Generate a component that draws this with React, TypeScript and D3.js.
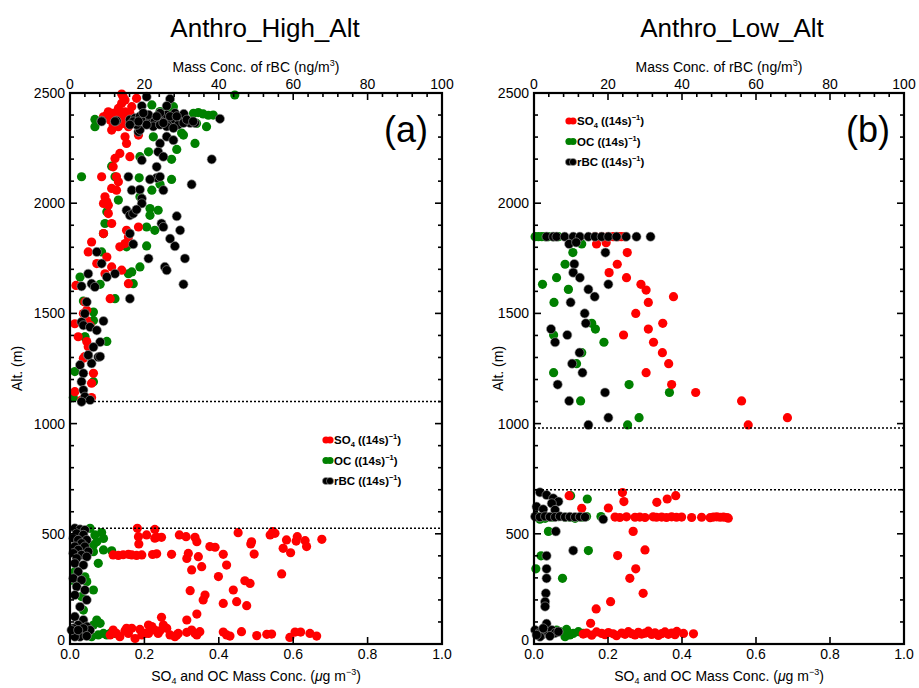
import React from "react";
import * as d3 from "d3";

type P = [number, number];

// ---------- Panel (a) Anthro_High_Alt ----------
// SO4 (µg m^-3, altitude m)
const soA: P[] = [
  [0.143,2483],[0.139,2453],[0.179,2476],[0.166,2438],[0.116,2408],[0.099,2400],[0.090,2392],[0.108,2377],[0.125,2370],[0.139,2385],
  [0.152,2392],[0.143,2362],[0.157,2347],[0.112,2332],[0.184,2309],[0.148,2301],[0.152,2271],[0.134,2226],[0.121,2203],[0.161,2211],
  [0.116,2165],[0.125,2120],[0.085,2120],[0.130,2097],[0.112,2067],[0.125,2059],[0.094,2029],[0.099,2006],[0.090,1999],[0.103,1991],
  [0.103,1953],[0.112,1908],[0.152,1877],[0.184,1892],[0.090,1862],[0.157,1847],[0.058,1824],[0.148,1817],[0.134,1802],[0.049,1779],
  [0.099,1756],[0.072,1726],[0.112,1711],[0.094,1680],[0.139,1696],[0.157,1635],[0.016,1627],[0.108,1567],[0.040,1552],[0.045,1514],
  [0.036,1499],[0.013,1453],[0.045,1468],[0.054,1446],
  [0.130,2430],[0.148,2415],[0.121,2392],[0.134,2408],[0.166,2377],[0.161,2408],[0.175,2370],[0.130,2347],[0.116,2355],[0.103,2415],
  [0.148,2468],[0.139,2495],
  [0.045,1372],[0.049,1349],[0.040,1304],[0.036,1296],[0.063,1228],[0.058,1183],[0.013,1145],[0.031,1107],[0.058,1118],[0.022,1394],
  [0.181,525],[0.228,520],[0.184,487],[0.206,495],[0.228,480],[0.246,484],[0.294,495],[0.312,487],[0.336,484],[0.341,464],
  [0.185,454],[0.233,484],[0.452,505],[0.538,495],[0.545,510],[0.551,502],[0.582,472],[0.611,487],[0.608,467],[0.632,469],
  [0.677,475],[0.488,464],[0.486,454],[0.573,434],[0.593,414],[0.636,442],[0.376,442],[0.390,439],[0.412,407],[0.421,358],
  [0.495,408],[0.318,411],[0.314,388],[0.345,396],[0.354,351],[0.327,336],[0.569,318],[0.399,306],[0.439,245],[0.470,287],
  [0.484,275],[0.448,192],[0.363,222],[0.358,200],[0.412,184],[0.323,242],[0.314,109],[0.341,136],[0.246,121],[0.475,174],
  [0.116,404],[0.130,402],[0.143,405],[0.157,407],[0.166,404],[0.179,402],[0.193,404],[0.222,406],[0.233,409],[0.273,407],
  [0.108,41],[0.125,48],[0.134,33],[0.148,60],[0.157,48],[0.166,71],[0.175,25],[0.193,41],[0.202,48],[0.211,86],
  [0.220,79],[0.228,63],[0.237,48],[0.251,86],[0.260,71],[0.269,41],[0.282,33],[0.291,48],[0.314,53],[0.327,63],
  [0.336,48],[0.341,41],[0.349,56],[0.412,54],[0.421,41],[0.430,36],[0.461,56],[0.502,38],[0.529,44],[0.542,45],
  [0.591,30],[0.605,54],[0.620,54],[0.645,48],[0.663,36],[0.188,66],[0.242,60],[0.287,41],[0.211,48],[0.152,71],[0.116,63],
];
// OC (µg m^-3, altitude m)
const ocA: P[] = [
  [0.443,2491],[0.278,2438],[0.220,2446],[0.067,2380],[0.067,2347],[0.332,2408],[0.345,2411],[0.358,2405],[0.372,2399],[0.385,2400],
  [0.367,2347],[0.340,2362],[0.291,2362],[0.305,2309],[0.224,2301],[0.336,2271],[0.287,2244],[0.211,2233],[0.273,2199],[0.188,2211],
  [0.112,2168],[0.031,2120],[0.121,2120],[0.186,2115],[0.273,2108],[0.242,2086],[0.220,2059],[0.188,2029],[0.215,1976],[0.237,1968],
  [0.215,1945],[0.130,2014],[0.099,1961],[0.094,1908],[0.206,1892],[0.228,1877],[0.090,1862],[0.152,1802],[0.206,1806],[0.085,1779],
  [0.188,1711],[0.166,1688],[0.157,1680],[0.027,1665],[0.081,1632],[0.170,1635],[0.121,1567],[0.036,1556],[0.063,1468],[0.040,1393],
  [0.099,1373],[0.063,1506],[0.013,1236],[0.063,1190],[0.009,1118],[0.040,1394],[0.269,2424],[0.242,2416],[0.300,2318],
  [0.054,525],[0.067,495],[0.085,506],[0.090,479],[0.072,464],[0.112,423],[0.090,427],[0.063,419],[0.076,366],[0.013,328],
  [0.040,305],[0.063,245],[0.031,215],[0.036,154],[0.072,109],[0.081,94],[0.063,86],[0.090,48],[0.108,48],[0.076,41],
  [0.058,33],[0.099,41],[0.121,48],[0.013,283],[0.045,283],[0.063,449],
];
// rBC (ng m^-3, altitude m)
const bcA: P[] = [
  [20.6,2483],[26.9,2473],[19.3,2441],[26.0,2441],[8.5,2374],[12.5,2374],[18.4,2324],[26.0,2302],[27.8,2286],[24.2,2271],
  [19.3,2195],[23.7,2233],[25.1,2211],[38.1,2199],[23.3,2165],[23.3,2115],[15.7,2120],[21.5,2108],[24.2,2120],[25.1,2059],
  [32.7,2085],[16.6,2059],[18.8,2062],[19.3,2021],[19.3,1999],[15.2,1968],[16.1,1945],[17.0,1953],[17.9,1971],[28.7,1941],
  [24.6,1908],[25.1,1892],[29.6,1877],[16.1,1862],[26.9,1839],[17.0,1814],[28.2,1805],[30.9,1749],[25.5,1711],[26.0,1696],
  [21.1,1749],[12.1,1680],[30.5,1632],[9.9,1665],[16.1,1567],[8.5,1726],[7.2,1779],[4.9,1680],[3.1,1623],[6.3,1627],
  [5.8,1635],[6.7,1620],[4.5,1552],[3.1,1461],[4.0,1499],[3.6,1446],[5.4,1438],[7.2,1423],[9.0,1465],[8.1,1370],
  [6.3,1347],[7.6,1302],[4.9,1309],[5.8,1273],[2.7,1266],[3.6,1228],[3.1,1190],[3.6,1152],[4.0,1122],[5.4,1107],
  [3.1,1099],[8.1,1304],[4.9,1311],
  [8.5,2371],[12.1,2371],[16.1,2379],[17.5,2386],[18.8,2394],[20.2,2379],[21.5,2386],[22.8,2371],[24.2,2386],[25.5,2379],
  [26.9,2371],[28.2,2379],[29.6,2386],[30.6,2405],[32.3,2364],[33.6,2364],[40.3,2383],[18.8,2333],[22.4,2348],[26.0,2348],
  [29.1,2356],[17.9,2356],[20.6,2356],[24.2,2356],[27.8,2341],[30.5,2364],[21.1,2401],[26.0,2401],[24.2,2409],[19.7,2409],
  [28.2,2409],[17.0,2371],[18.4,2371],[23.3,2394],[25.1,2364],[26.9,2394],[28.7,2394],[31.4,2379],[33.1,2371],[16.1,2356],
  [1.3,525],[2.7,520],[4.0,517],[1.8,502],[3.6,495],[0.9,480],[2.2,472],[4.5,472],[3.1,457],[1.3,442],
  [4.0,442],[2.2,427],[4.9,419],[0.9,412],[3.1,404],[1.8,389],[4.5,396],[1.3,366],[3.6,358],[2.2,328],
  [0.9,298],[3.1,290],[1.8,260],[4.0,245],[1.3,222],[4.5,200],[2.7,169],[1.3,124],[3.6,109],[2.2,86],
  [4.5,79],[0.9,71],[3.1,56],[1.8,48],[4.0,41],[4.9,56],[2.7,33],[1.3,33],[5.4,63],[0.4,63],[3.6,71],[2.2,63],[4.5,36],
];

// ---------- Panel (b) Anthro_Low_Alt ----------
const soB: P[] = [
  [0.165,1848],[0.183,1848],[0.200,1848],[0.214,1848],[0.228,1848],[0.236,1848],[0.245,1848],
  [0.169,1815],[0.195,1821],[0.252,1776],[0.225,1723],[0.203,1685],[0.250,1662],[0.289,1632],[0.303,1606],[0.309,1550],
  [0.377,1576],[0.275,1500],[0.309,1429],[0.348,1455],[0.242,1402],[0.323,1369],[0.347,1322],[0.364,1272],[0.303,1231],
  [0.372,1177],[0.437,1141],[0.561,1103],[0.579,994],[0.685,1027],
  [0.239,687],[0.243,646],[0.095,673],[0.201,617],[0.332,643],[0.360,658],[0.383,673],[0.129,616],
  [0.219,576],[0.232,574],[0.250,577],[0.273,575],[0.286,576],[0.300,574],[0.322,577],[0.331,575],[0.345,576],[0.358,574],
  [0.372,577],[0.385,575],[0.399,576],[0.426,574],[0.453,575],[0.476,573],[0.485,576],[0.494,577],[0.503,575],[0.512,576],
  [0.521,574],[0.525,571],
  [0.268,511],[0.300,427],[0.226,401],[0.275,341],[0.259,298],[0.295,230],[0.207,192],[0.168,159],[0.153,94],
  [0.133,45],[0.142,50],[0.156,40],[0.169,55],[0.183,48],[0.192,42],[0.201,52],[0.214,46],[0.223,38],[0.237,50],
  [0.246,44],[0.255,56],[0.264,47],[0.273,41],[0.282,53],[0.291,45],[0.300,49],[0.309,58],[0.318,43],[0.327,51],
  [0.336,39],[0.345,47],[0.354,55],[0.363,44],[0.372,50],[0.381,42],[0.386,57],[0.404,48],[0.431,46],
];
const ocB: P[] = [
  [0.003,1848],[0.012,1848],[0.021,1848],[0.030,1848],[0.039,1848],[0.052,1848],[0.066,1848],
  [0.129,1815],[0.105,1776],[0.084,1723],[0.061,1662],[0.023,1632],[0.093,1609],[0.054,1550],[0.156,1455],[0.166,1429],
  [0.053,1402],[0.189,1369],[0.129,1322],[0.115,1272],[0.053,1231],[0.257,1177],[0.366,1141],[0.126,1103],[0.284,1027],[0.253,994],
  [0.099,673],[0.144,658],[0.181,578],[0.039,511],[0.147,424],[0.019,400],[0.005,341],[0.077,298],
  [0.007,578],[0.016,566],[0.030,570],[0.048,575],[0.066,578],[0.084,575],[0.097,575],[0.111,570],[0.129,575],[0.142,578],
  [0.034,50],[0.052,48],[0.070,56],[0.088,66],[0.097,41],[0.106,48],[0.120,56],[0.133,48],[0.084,33],[0.061,63],
];
const bcB: P[] = [
  [3.4,1848],[5.2,1848],[6.1,1848],[8.3,1848],[10.6,1848],[12.4,1848],[14.7,1848],[16.5,1848],[18.3,1848],[20.1,1848],
  [22.3,1848],[24.9,1848],[27.7,1848],[31.5,1848],
  [9.5,1815],[11.4,1822],[19.3,1776],[10.9,1724],[10.6,1685],[12.4,1662],[20.1,1632],[14.7,1609],[16.4,1576],[9.9,1550],
  [13.7,1500],[14.0,1455],[4.6,1429],[9.0,1402],[5.7,1369],[12.3,1322],[10.3,1272],[13.1,1231],[6.4,1177],[19.2,1141],
  [9.5,1103],[20.1,1027],[14.7,994],
  [1.6,688],[3.4,676],[5.2,661],[6.6,646],[4.8,638],[0.7,623],[2.5,611],[5.7,608],
  [0.3,578],[1.6,576],[3.0,579],[4.3,577],[5.7,576],[7.0,579],[8.4,576],[9.7,577],[11.1,576],[12.4,577],[13.8,576],[18.7,566],
  [5.9,511],[10.6,424],[3.4,400],[3.4,341],[3.4,298],[3.2,230],[3.0,192],[3.0,170],[3.4,92],
  [0.3,63],[1.2,48],[2.1,41],[3.0,56],[3.9,48],[4.8,63],[5.7,50],[6.6,56],[1.6,33],[2.5,71],[0.7,41],[4.3,36],
];

const dottedA = [1100, 525];
const dottedB = [980, 700];

const xTicksBottom = [0, 0.2, 0.4, 0.6, 0.8, 1.0];
const xTicksTop = [0, 20, 40, 60, 80, 100];
const yTicks = [0, 500, 1000, 1500, 2000, 2500];

const RED = "#ff0000";
const GREEN = "#008000";
const BLACK = "#000000";
const FONT = "'Liberation Sans', Arial, Helvetica, sans-serif";

type PanelProps = {
  left: number; right: number; top: number; bottom: number;
  title: string; titleX: number; tag: string;
  so: P[]; oc: P[]; bc: P[]; lines: number[];
  legendX: number; legendY: number; ylabelX: number;
};

function Sub({ t }: { t: string }) {
  return <tspan dy={3} fontSize="0.7em">{t}</tspan>;
}

function Panel(p: PanelProps) {
  const x = d3.scaleLinear().domain([0, 1]).range([p.left, p.right]);
  const xt = d3.scaleLinear().domain([0, 100]).range([p.left, p.right]);
  const y = d3.scaleLinear().domain([0, 2500]).range([p.bottom, p.top]);
  const yMinor = d3.range(0, 2501, 100);
  const xtMinor = d3.range(0, 101, 4);
  const R = 4.6;
  const legendItems = [
    { c: RED, s: "none", label: "SO", sub: "4" },
    { c: GREEN, s: "none", label: "OC", sub: "" },
    { c: BLACK, s: "#999", label: "rBC", sub: "" },
  ];
  return (
    <g>
      <text x={p.titleX} y={37} textAnchor="middle" fontSize={26} fontFamily={FONT}>{p.title}</text>
      {/* top axis title */}
      <text x={(p.left + p.right) / 2} y={72} textAnchor="middle" fontSize={14} fontFamily={FONT}>
        Mass Conc. of rBC (ng/m<tspan dy={-6} fontSize={9}>3</tspan><tspan dy={6}>)</tspan>
      </text>
      {/* bottom axis title */}
      <text x={(p.left + p.right) / 2} y={681} textAnchor="middle" fontSize={14} fontFamily={FONT}>
        SO<tspan dy={3} fontSize={9}>4</tspan><tspan dy={-3}> and OC Mass Conc. (</tspan><tspan fontStyle="italic">μ</tspan>g m<tspan dy={-6} fontSize={9}>−3</tspan><tspan dy={6}>)</tspan>
      </text>
      {/* y title */}
      <text transform={`translate(${p.ylabelX},${(p.top + p.bottom) / 2}) rotate(-90)`} textAnchor="middle" fontSize={14} fontFamily={FONT}>Alt. (m)</text>

      {/* data */}
      {p.oc.map((d, i) => (
        <circle key={"o" + i} cx={x(d[0])} cy={y(d[1])} r={R} fill={GREEN} />
      ))}
      {p.so.map((d, i) => (
        <circle key={"s" + i} cx={x(d[0])} cy={y(d[1])} r={R} fill={RED} />
      ))}
      {p.bc.map((d, i) => (
        <circle key={"b" + i} cx={xt(d[0])} cy={y(d[1])} r={R} fill={BLACK} stroke="#9a9a9a" strokeWidth={0.6} />
      ))}

      {/* dotted lines */}
      {p.lines.map((a, i) => (
        <line key={"l" + i} x1={p.left} x2={p.right} y1={y(a)} y2={y(a)} stroke="#000" strokeWidth={1.5} strokeDasharray="2,2" />
      ))}

      {/* ticks */}
      {yMinor.map((v) => {
        const major = v % 500 === 0;
        const L = major ? 7 : 4;
        return (
          <g key={"y" + v}>
            <line x1={p.left} x2={p.left + L} y1={y(v)} y2={y(v)} stroke="#000" strokeWidth={1.6} />
            <line x1={p.right} x2={p.right - L} y1={y(v)} y2={y(v)} stroke="#000" strokeWidth={1.6} />
          </g>
        );
      })}
      {xtMinor.map((v) => {
        const major = v % 20 === 0;
        const L = major ? 7 : 4;
        return <line key={"xt" + v} x1={xt(v)} x2={xt(v)} y1={p.top} y2={p.top + L} stroke="#000" strokeWidth={1.6} />;
      })}
      {xTicksBottom.map((v) => (
        <line key={"xb" + v} x1={x(v)} x2={x(v)} y1={p.bottom} y2={p.bottom - 7} stroke="#000" strokeWidth={1.6} />
      ))}

      {/* tick labels */}
      {yTicks.map((v) => (
        <text key={"yl" + v} x={p.left - 5} y={y(v) + (v === 0 ? 1 : 5)} textAnchor="end" fontSize={14} fontFamily={FONT}>{v}</text>
      ))}
      {xTicksTop.map((v) => (
        <text key={"xtl" + v} x={xt(v)} y={89} textAnchor="middle" fontSize={14} fontFamily={FONT}>{v}</text>
      ))}
      {xTicksBottom.map((v) => (
        <text key={"xbl" + v} x={x(v)} y={659} textAnchor="middle" fontSize={14} fontFamily={FONT}>{v.toFixed(1)}</text>
      ))}

      {/* frame */}
      <rect x={p.left} y={p.top} width={p.right - p.left} height={p.bottom - p.top} fill="none" stroke="#000" strokeWidth={2.2} />

      {/* panel tag */}
      <text x={p.right - 14} y={142} textAnchor="end" fontSize={36} fontFamily={FONT}>{p.tag}</text>

      {/* legend */}
      {legendItems.map((it, i) => {
        const ly = p.legendY + i * 20.5;
        return (
          <g key={"lg" + i}>
            <circle cx={p.legendX - 2} cy={ly} r={3.6} fill={it.c} stroke={it.s} strokeWidth={0.6} />
            <circle cx={p.legendX + 2} cy={ly} r={3.6} fill={it.c} stroke={it.s} strokeWidth={0.6} />
            <text x={p.legendX + 6} y={ly + 4} fontSize={11.5} fontWeight="bold" fontFamily={FONT}>
              {it.label}
              {it.sub ? <tspan dy={3} fontSize={7.5}>{it.sub}</tspan> : null}
              <tspan dy={it.sub ? -3 : 0}> ((14s)</tspan>
              <tspan dy={-5} fontSize={7.5}>−1</tspan>
              <tspan dy={5}>)</tspan>
            </text>
          </g>
        );
      })}
    </g>
  );
}

export default function App() {
  return (
    <svg width={919} height={688} style={{ position: "absolute", left: 0, top: 0, background: "#fff" }}>
      <rect x={0} y={0} width={919} height={688} fill="#fff" />
      <Panel left={70} right={442} top={93} bottom={644} title="Anthro_High_Alt" titleX={265} tag="(a)"
        so={soA} oc={ocA} bc={bcA} lines={dottedA} legendX={328} legendY={440} ylabelX={22} />
      <Panel left={534} right={904} top={93} bottom={644} title="Anthro_Low_Alt" titleX={732} tag="(b)"
        so={soB} oc={ocB} bc={bcB} lines={dottedB} legendX={571} legendY={121} ylabelX={503} />
    </svg>
  );
}
